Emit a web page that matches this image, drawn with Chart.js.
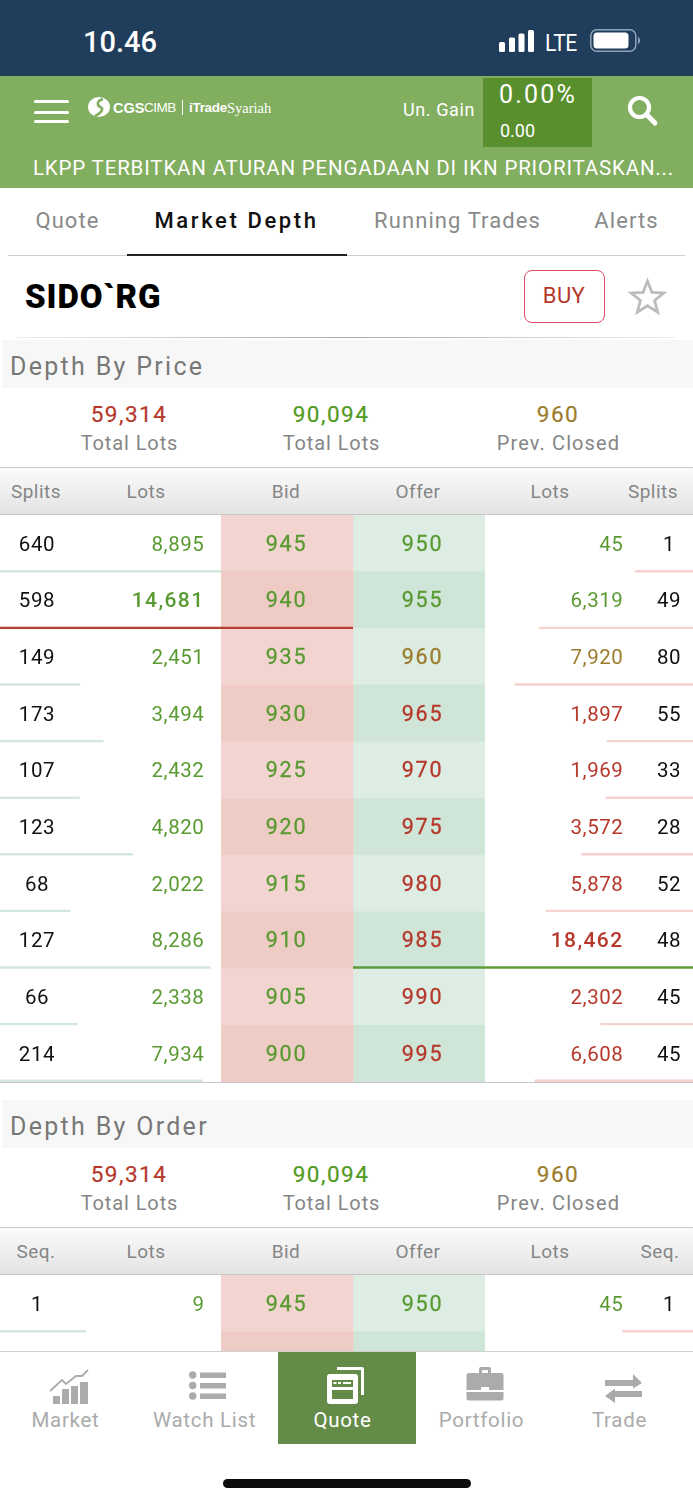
<!DOCTYPE html>
<html><head><meta charset="utf-8">
<script src="https://cdn.jsdelivr.net/npm/chart.js@4/dist/chart.umd.min.js"></script>
<style>
html,body{margin:0;padding:0;background:#fff;width:693px;height:1500px;overflow:hidden;font-family:Roboto,sans-serif}
#page{position:relative;width:693px;height:1500px;overflow:hidden;background:#fff}
.b{position:absolute}
.t{position:absolute;white-space:nowrap;line-height:1}
canvas{position:absolute}
svg{position:absolute;overflow:visible}
</style></head><body><div id="page"></div>
<script>
// ---------- Depth By Price ----------
const bidPrices   = [945,940,935,930,925,920,915,910,905,900];
const offerPrices = [950,955,960,965,970,975,980,985,990,995];
const bidSplits   = [640,598,149,173,107,123,68,127,66,214];
const offerSplits = [1,49,80,55,33,28,52,48,45,45];
const bidLots     = [8895,14681,2451,3494,2432,4820,2022,8286,2338,7934];
const offerLots   = [45,6319,7920,1897,1969,3572,5878,18462,2302,6608];
// ---------- Depth By Order (visible rows) ----------
const orderBidPrices   = [945,940];
const orderOfferPrices = [950,955];
const orderBidSeq   = [1];
const orderOfferSeq = [1];
const orderBidLots   = [9,0];
const orderOfferLots = [45,0];
// ---------- Summary and labels ----------
const totalBid = 59314, totalOffer = 90094, prevClosed = 960;
const priceHeaders = ['Splits','Lots','Bid','Offer','Lots','Splits'];
const orderHeaders = ['Seq.','Lots','Bid','Offer','Lots','Seq.'];
const tabs = ['Quote','Market Depth','Running Trades','Alerts'];
const navItems = ['Market','Watch List','Quote','Portfolio','Trade'];

const GREEN='#5a9a32', RED='#b5382b', GOLD='#9c7c2c', GREY='#868686';
const fmt = n => n.toLocaleString('en-US');
const page = document.getElementById('page');

function box(x,y,w,h,bg,extra){const d=document.createElement('div');d.className='b';
  d.style.cssText+=`left:${x}px;top:${y}px;width:${w}px;height:${h}px;background:${bg};`+(extra||'');page.appendChild(d);return d;}
function txt(s,x,y,o){o=o||{};const d=document.createElement('div');d.className='t';d.textContent=s;
  const tx=o.align==='r'?'-100%':o.align==='l'?'0':'-50%';
  d.style.cssText+=`left:${x}px;top:${y}px;font-size:${o.size||20}px;color:${o.color||'#000'};font-weight:${o.weight||400};letter-spacing:${o.ls||0}px;font-family:${o.font||'Roboto,sans-serif'};transform:translate(${tx},-50%);z-index:${o.z||5};`+(o.stroke?`-webkit-text-stroke:${o.stroke}px ${o.color};`:'');
  page.appendChild(d);return d;}
function svg(x,y,w,h,inner,z){const d=document.createElement('div');d.style.cssText=`position:absolute;left:${x}px;top:${y}px;width:${w}px;height:${h}px;z-index:${z||5}`;
  d.innerHTML=`<svg width="${w}" height="${h}" viewBox="0 0 ${w} ${h}">${inner}</svg>`;page.appendChild(d);}
function cv(x,y,w,h,z){const c=document.createElement('canvas');c.width=w;c.height=h;c.style.cssText=`left:${x}px;top:${y}px;width:${w}px;height:${h}px;z-index:${z}`;page.appendChild(c);return c;}

// ---------- Chrome ----------
box(0,0,693,76,'#203d5c');
box(0,76,693,112,'#82ae60');
txt('10.46',120,42,{size:29,color:'#fff',weight:500});
svg(499,30,36,22,'<rect x="0" y="12" width="6" height="10" rx="1.5" fill="#fff"/><rect x="10" y="7.5" width="6" height="14.5" rx="1.5" fill="#fff"/><rect x="19.5" y="3.5" width="6" height="18.5" rx="1.5" fill="#fff"/><rect x="29" y="0" width="6" height="22" rx="1.5" fill="#fff"/>');
txt('LTE',561,43,{size:23,color:'#fff',ls:-.5}).style.transform='translate(-50%,-50%) scaleX(.92)';
svg(590,29,50,24,'<rect x=".8" y=".8" width="45" height="21.5" rx="6" fill="none" stroke="#8ea3b8" stroke-width="1.5"/><rect x="3.5" y="3.5" width="35" height="16" rx="3.5" fill="#fff"/><path d="M48 8v7c1.5-.5 2-2 2-3.500s-.5-3-2-3.500z" fill="#8ea3b8"/>');
// hamburger
box(34,100,35,3,'#fff','border-radius:2px');box(34,110.500,35,3,'#fff','border-radius:2px');box(34,120,35,3,'#fff','border-radius:2px');
// logo
svg(88,97,24,20,'<ellipse cx="11" cy="10" rx="11" ry="10" fill="#fff"/><path d="M15 2C8 4 9 9 13 10.500 16 12 13 16 7 19" fill="none" stroke="#82ae60" stroke-width="2.600"/>');
txt('CGS',113,108,{size:14.500,color:'#fff',weight:700,align:'l',font:'"Liberation Sans"'});
txt('CIMB',144,108,{size:13.500,color:'#fff',align:'l',font:'"Liberation Sans"',ls:-.5});
box(182,100,1,15,'#fff');
txt('iTrade',189,108,{size:13.500,color:'#fff',weight:700,align:'l',font:'"Liberation Sans"',ls:-.3});
txt('Syariah',227,108,{size:14.500,color:'#fff',align:'l',font:'"Liberation Serif"'});
txt('Un. Gain',403,110,{size:18,color:'#fff',align:'l',ls:.6});
box(483,78,109,69,'#598f2d');
txt('0.00%',499,94,{size:25,color:'#fff',align:'l',ls:2.200});
txt('0.00',500,131,{size:18,color:'#fff',align:'l'});
svg(627,95,31,31,'<circle cx="12.500" cy="12.500" r="9.500" fill="none" stroke="#fff" stroke-width="4.200"/><path d="M19.500 19.500L28 28" stroke="#fff" stroke-width="5" stroke-linecap="round"/>');
txt('LKPP TERBITKAN ATURAN PENGADAAN DI IKN PRIORITASKAN...',33,168,{size:20.500,color:'#fff',align:'l',ls:.83});
// tabs
[[67.500,'#8a8a8a'],[236.500,'#111'],[457.500,'#8a8a8a'],[626.500,'#8a8a8a']].forEach((p,i)=>txt(tabs[i],p[0],221,{size:22,color:p[1],ls:i==1?2.600:1.100,weight:i==1?500:400}));
box(8,254.500,677,1.500,'#cfcfcf');box(127,254,220,2,'#222');
txt('SIDO`RG',25,296,{size:33,weight:900,align:'l',ls:.9});
box(524,270,78.500,50.500,'#fff','border:1.500px solid #e2486a;border-radius:8px;');
txt('BUY',564,296,{size:22,color:RED,ls:.4});
svg(629,279,37,34,'<path d="M18.500 2l4.400 11.300 12 .6-9.300 7.600 3.100 11.700-10.200-6.500-10.200 6.500 3.100-11.700L2.100 13.900l12-.6z" fill="none" stroke="#bcbcbc" stroke-width="2.800" stroke-linejoin="miter"/>');
box(16,336.500,660,1.500,'linear-gradient(90deg,#eee,#aaa 50%,#eee)');

// ---------- Section scaffolding ----------
function section(title,top,headers){
  box(2,top,691,48,'#f7f7f7');
  txt(title,10,top+25.500,{size:25,color:'#787878',align:'l',ls:2.300});
  const y1=top+74,y2=top+103;
  txt(fmt(totalBid),129,y1,{size:22.500,color:RED,ls:1.500,stroke:.2});
  txt(fmt(totalOffer),331,y1,{size:22.500,color:'#529a22',ls:1.500,stroke:.2});
  txt(fmt(prevClosed),558,y1,{size:22.500,color:GOLD,ls:1.500,stroke:.2});
  txt('Total Lots',129.500,y2,{size:20,color:GREY,ls:.9});
  txt('Total Lots',331.500,y2,{size:20,color:GREY,ls:.9});
  txt('Prev. Closed',558.500,y2,{size:20,color:GREY,ls:1.100});
  box(0,top+127,693,46,'linear-gradient(#fbfbfb,#e3e3e3)','border-top:1.500px solid #ccc;border-bottom:1.500px solid #c6c6c6;');
  const xs=[36,146,286,418,550,headers[5]==='Seq.'?660:653];
  headers.forEach((h,i)=>txt(h,xs[i],top+150.500,{size:19,color:'#868686',ls:.5}));
}
section('Depth By Price',340,priceHeaders);
section('Depth By Order',1100,orderHeaders);

function rowTexts(top,rowH,bs,bl,bp,op,ol,os){
  bp.forEach((_,i)=>{
    const y=top+rowH*i+28.500;
    const big=bl.length>2;
    const isBidMax=big&&bl[i]===Math.max(...bl), isOffMax=big&&ol[i]===Math.max(...ol);
    const c=op[i]<prevClosed?GREEN:op[i]===prevClosed?GOLD:RED;
    txt(String(bs[i]),37,y,{size:20.500,color:'#111',ls:.6});
    txt(fmt(bl[i]),204.500,y,{size:isBidMax?21:20.500,color:GREEN,align:'r',ls:isBidMax?1.400:.6,weight:isBidMax?500:400});
    txt(String(bp[i]),286.500,y,{size:21.500,color:GREEN,ls:1.800,stroke:.3});
    txt(String(op[i]),422.500,y,{size:21.500,color:c,ls:1.800,stroke:.3});
    txt(fmt(ol[i]),623.500,y,{size:isOffMax?21:20.500,color:c,align:'r',ls:isOffMax?1.400:.6,weight:isOffMax?500:400});
    txt(String(os[i]),669,y,{size:20.500,color:'#111',ls:.6});
  });
}
rowTexts(515.300,56.670,bidSplits,bidLots,bidPrices,offerPrices,offerLots,offerSplits);
rowTexts(1275,56.670,orderBidSeq,orderBidLots.slice(0,1),orderBidPrices.slice(0,1),orderOfferPrices.slice(0,1),orderOfferLots.slice(0,1),orderOfferSeq);

// ---------- Chart.js marks ----------
Chart.defaults.animation=false;
const baseOpts=(xMin,xMax,rev)=>({responsive:false,animation:false,indexAxis:'y',devicePixelRatio:1,
  layout:{padding:0},plugins:{legend:{display:false},tooltip:{enabled:false}},
  scales:{x:{type:'linear',display:false,min:xMin,max:xMax,reverse:!!rev},y:{type:'category',display:false,grid:{display:false}}}});

// Price bands behind the bid and offer columns
function bandChart(canvas,labels){
  const val=labels.map(()=>1);
  const o=baseOpts(0,2);o.scales.x.stacked=true;o.scales.y.stacked=true;
  new Chart(canvas,{type:'bar',data:{labels,datasets:[
    {label:'Bid',data:val,barPercentage:1,categoryPercentage:1,backgroundColor:c=>c.dataIndex%2?'#eecbc5':'#f2d4d1'},
    {label:'Offer',data:val,barPercentage:1,categoryPercentage:1,backgroundColor:c=>c.dataIndex%2?'#cfe5d8':'#ddede4'}
  ]},options:o});
}
bandChart(cv(221,515,264,567,1),bidPrices);
bandChart(cv(221,1275,264,113,1),orderBidPrices);

// Depth underlines: bar length follows lots on a linear scale whose base sits below zero
const keepOffBands={id:'keepOffBands',
  beforeDatasetDraw(ch,a,o){if(!o.limit)return;const c=ch.ctx;c.save();c.beginPath();
    if(ch.scales.x.options.reverse)c.rect(ch.width-o.limit,0,o.limit,ch.height);else c.rect(0,0,o.limit,ch.height);c.clip();},
  afterDatasetDraw(ch,a,o){if(o.limit)ch.ctx.restore();}};
Chart.register(keepOffBands);
function depthChart(canvas,labels,lots,xMin,xMax,rev,col,limit){
  const o=baseOpts(xMin,xMax,rev);
  o.plugins.keepOffBands={limit};
  new Chart(canvas,{type:'bar',data:{labels,datasets:[{label:'Lots',data:lots,base:xMin,barThickness:1.700,borderWidth:0,backgroundColor:col}]},options:o});
}
// the deepest level of each side is drawn above the price bands, the others stay outside them
function depthPair(x,y,w,h,labels,lots,xMin,xMax,rev,col,maxCol,limit){
  const top=Math.max(...lots);
  depthChart(cv(x,y,w,h,2),labels,lots.map(v=>v===top?null:v),xMin,xMax,rev,col,limit);
  depthChart(cv(x,y,w,h,3),labels,lots.map(v=>v===top?v:null),xMin,xMax,rev,maxCol,0);
}
depthPair(0,543,353,566,bidPrices,bidLots,-1120,14681,false,'#d3e8dc','#b93f33',221);
depthPair(353,543,340,566,offerPrices,offerLots,-3700,18462,true,'#f6d2ce','#5f9a3b',208);
depthChart(cv(0,1303,221,113,2),orderBidPrices,[orderBidLots[0],null],-10,39,false,'#d3e8dc',0);
depthChart(cv(485,1303,208,113,2),orderOfferPrices,[orderOfferLots[0],null],-10,153,true,'#f6d2ce',0);

box(0,1081.700,693,1.500,'#c4c4c4','z-index:4;');

// ---------- Bottom navigation ----------
box(0,1351,693,149,'#fff','z-index:6;border-top:1.500px solid #d0d0d0;box-sizing:border-box;');
box(277.500,1352,138,92,'#658b48','z-index:7;');
const navX=[65.500,204.500,342.500,481.500,619.500];
navItems.forEach((n,i)=>txt(n,navX[i],1419.500,{size:20.500,color:i==2?'#fff':'#ababab',z:8,ls:.7}));
const G='#ababab';
svg(50,1370,40,36,`<rect x="3" y="26" width="7" height="8" fill="${G}"/><rect x="12" y="19" width="7" height="15" fill="${G}"/><rect x="21" y="16" width="7" height="18" fill="${G}"/><rect x="30" y="12" width="8" height="22" fill="${G}"/><path d="M0 21L12 10 16 14 26 6 32 6 38 0" fill="none" stroke="${G}" stroke-width="1.800"/>`,8);
svg(189,1367,38,38,`<circle cx="3.700" cy="8" r="3.700" fill="${G}"/><circle cx="3.700" cy="18.500" r="3.700" fill="${G}"/><circle cx="3.700" cy="29" r="3.700" fill="${G}"/><rect x="11" y="5.500" width="26" height="5.500" fill="${G}"/><rect x="11" y="16" width="26" height="5.500" fill="${G}"/><rect x="11" y="26.500" width="26" height="5.500" fill="${G}"/>`,8);
svg(327,1367,38,38,`<path d="M10 0H35a2 2 0 0 1 2 2V28H34V3H10z" fill="#fff"/><rect x="0" y="7" width="31" height="30" rx="3" fill="#fff"/><rect x="5" y="13" width="21" height="7" fill="#658b48"/><rect x="5" y="23" width="21" height="9" fill="#658b48"/><rect x="6.500" y="15" width="3" height="2" fill="#fff"/><rect x="11" y="15" width="3" height="2" fill="#fff"/><rect x="16" y="15" width="8" height="2" fill="#fff"/>`,8);
svg(466,1366,38,36,`<path d="M13 7V3a2 2 0 0 1 2-2h8a2 2 0 0 1 2 2v4h-3V4h-6v3z" fill="${G}"/><path d="M3 7H35a2.500 2.500 0 0 1 2.500 2.500V24H23v-3H15v3H.5V9.500A2.500 2.500 0 0 1 3 7z" fill="${G}"/><path d="M.5 26H37.500V32a2.500 2.500 0 0 1-2.500 2.500H3A2.500 2.500 0 0 1 .5 32z" fill="${G}"/>`,8);
svg(605,1374,38,30,`<path d="M0 6H28V0L37 9 28 14.500V12H0z" fill="${G}"/><path d="M37 17H10V14.500L0 22 10 29V23H37z" fill="${G}"/>`,8);
box(223,1479,248,8.500,'#0c0c0c','z-index:8;border-radius:5px;');
</script></body></html>
